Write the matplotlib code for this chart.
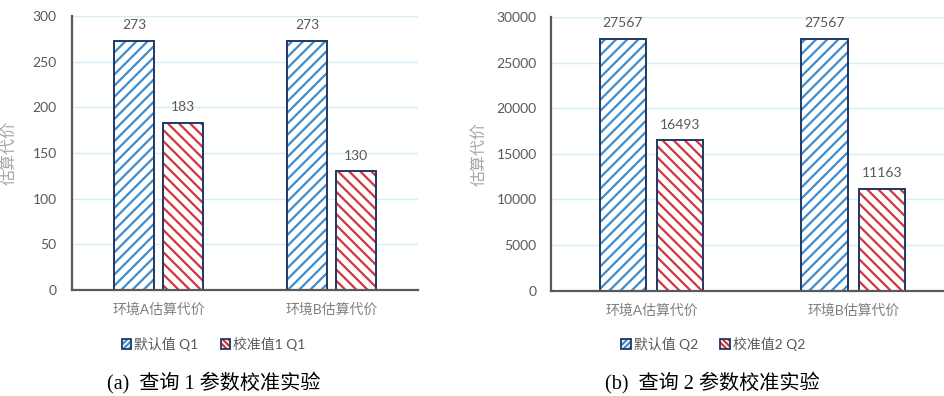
import matplotlib
matplotlib.use("Agg")
import matplotlib.pyplot as plt
from matplotlib.patches import Patch
from matplotlib.legend_handler import HandlerTuple

plt.rcParams['font.family'] = ['Lato', 'Noto Sans CJK SC', 'DejaVu Sans']
plt.rcParams['hatch.linewidth'] = 1.6

# Data
categories_q1 = ['环境A估算代价', '环境B估算代价']
default_q1 = [273, 273]
calibrated_q1 = [183, 130]
series_q1 = ['默认值 Q1', '校准值1 Q1']

categories_q2 = ['环境A估算代价', '环境B估算代价']
default_q2 = [27567, 27567]
calibrated_q2 = [16493, 11163]
series_q2 = ['默认值 Q2', '校准值2 Q2']

yticks_q1 = [0, 50, 100, 150, 200, 250, 300]
yticks_q2 = [0, 5000, 10000, 15000, 20000, 25000, 30000]

y_label = '估算代价'
captions = ['(a)  查询 1 参数校准实验', '(b)  查询 2 参数校准实验']

BLUE = '#3f8ccc'
RED = '#d5343f'
NAVY = '#1f3864'
GRID = '#d3eefa'
AXIS = '#595959'
TEXT = '#595959'

W, H = 944, 396
fig = plt.figure(figsize=(W / 100, H / 100), dpi=100)


def px_axes(x0, y0, x1, y1):
    return fig.add_axes([x0 / W, 1 - y1 / H, (x1 - x0) / W, (y1 - y0) / H])


def hatched_bars(ax, xs, vals, width, color, hatch):
    fill = ax.bar(xs, vals, width, color='white', edgecolor=color,
                  hatch=hatch, linewidth=0, zorder=2)
    ax.bar(xs, vals, width, color='none', edgecolor=NAVY,
           linewidth=1.4, zorder=3)
    return fill


def draw(ax, cats, v1, v2, yticks, xmax, ylabel_x, tick_pad):
    xs = range(len(cats))
    off, w = 0.142, 0.23
    b1 = hatched_bars(ax, [x - off for x in xs], v1, w, BLUE, '///')
    b2 = hatched_bars(ax, [x + off for x in xs], v2, w, RED, '\\\\\\')
    for b in (b1, b2):
        ax.bar_label(b, padding=7, fontsize=10, color=TEXT)
    ax.set_xlim(-0.5, xmax)
    ax.set_ylim(yticks[0], yticks[-1])
    ax.set_yticks(yticks)
    ax.set_xticks(list(xs), cats)
    ax.tick_params(axis='x', length=0, pad=9, labelsize=10, labelcolor='#7f7f7f')
    ax.tick_params(axis='y', length=0, pad=tick_pad, labelsize=10, labelcolor=TEXT)
    ax.grid(axis='y', color=GRID, linewidth=1.0, zorder=0)
    ax.set_axisbelow(True)
    for s in ('top', 'right'):
        ax.spines[s].set_visible(False)
    for s in ('left', 'bottom'):
        ax.spines[s].set_color(AXIS)
        ax.spines[s].set_linewidth(1.6)
        ax.spines[s].set_zorder(4)
    ax.set_ylabel(y_label, fontsize=11.5, color='#a6a6a6')
    ax.yaxis.set_label_coords(ylabel_x, 0.5)


def legend(series, cx, cy):
    handles = [
        (Patch(facecolor='white', edgecolor=BLUE, hatch='//////', linewidth=0),
         Patch(facecolor='none', edgecolor=NAVY, linewidth=1.3)),
        (Patch(facecolor='white', edgecolor=RED, hatch='\\\\\\\\\\\\', linewidth=0),
         Patch(facecolor='none', edgecolor=NAVY, linewidth=1.3)),
    ]
    fig.legend(handles, series, handler_map={tuple: HandlerTuple(ndivide=1)},
               loc='center', bbox_to_anchor=(cx / W, 1 - cy / H), ncol=2,
               frameon=False, fontsize=10, labelcolor=TEXT,
               handlelength=0.7, handleheight=0.7, handletextpad=0.2,
               columnspacing=1.6)


ax1 = px_axes(72, 16, 418, 290)
draw(ax1, categories_q1, default_q1, calibrated_q1, yticks_q1, 1.5, -0.159, 11)

ax2 = px_axes(550.7, 17, 944, 290.7)
draw(ax2, categories_q2, default_q2, calibrated_q2, yticks_q2,
     -0.5 + (944 - 550.7) / 201.7, -0.162, 10)

legend(series_q1, 213.5, 344)
legend(series_q2, 713, 344)

cap_font = ['Liberation Serif', 'Noto Sans CJK SC']
fig.text(214 / W, 1 - 383 / H, captions[0], ha='center', va='center',
         fontsize=14.5, color='black', family=cap_font)
fig.text(712 / W, 1 - 383 / H, captions[1], ha='center', va='center',
         fontsize=14.5, color='black', family=cap_font)

fig.savefig('out.png', dpi=100, facecolor='white')
